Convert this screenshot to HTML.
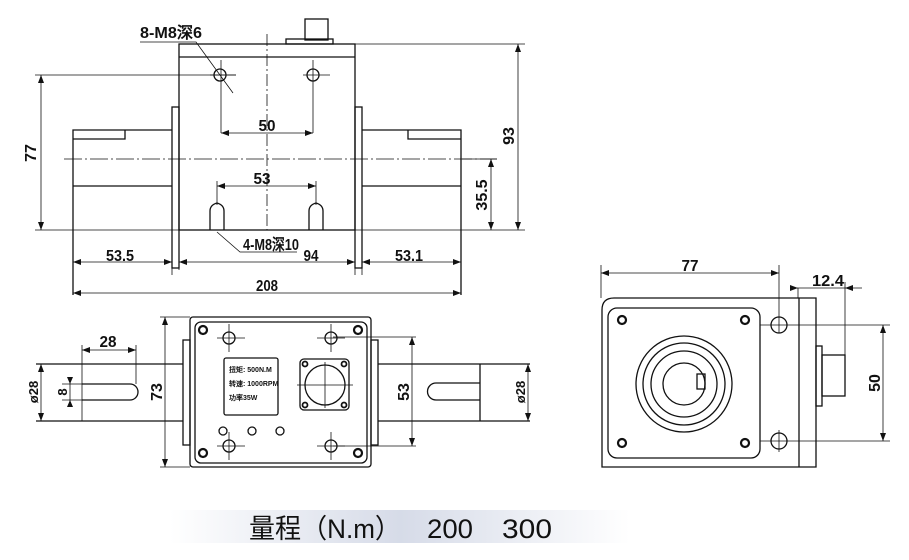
<!DOCTYPE html>
<html><head><meta charset="utf-8"><style>
html,body{margin:0;padding:0;background:#fff;}
svg{display:block;}
text{font-family:"Liberation Sans Narrow","Liberation Sans",sans-serif;font-weight:bold;fill:#111;}
</style></head><body>
<svg width="909" height="560" viewBox="0 0 909 560" xmlns="http://www.w3.org/2000/svg">
<defs>
<linearGradient id="g" x1="0" x2="1" y1="0" y2="0">
<stop offset="0" stop-color="#fff"/><stop offset="0.5" stop-color="#d6dbe8"/><stop offset="1" stop-color="#fff"/>
</linearGradient>
</defs>
<g stroke="#111" fill="none" stroke-width="1.3">
<rect x="305" y="19" width="23" height="21"/>
<rect x="286" y="39" width="47" height="5"/>
<rect x="179" y="44" width="176" height="186"/>
<line x1="179" y1="57" x2="355" y2="57"/>
<rect x="172" y="107" width="7" height="161"/>
<rect x="355" y="107" width="7" height="161"/>
<path d="M172 130H73V295 M73 186H172 M125 130V139H73 M73 139H125"/>
<path d="M362 130H461V295 M362 186H461 M408 130V139H461"/>
<path d="M64 159H497" stroke-width="0.8" stroke-dasharray="18 3 2 3"/>
<path d="M267 34V230" stroke-width="0.8" stroke-dasharray="12 3 2 3"/>
<circle cx="220" cy="75" r="6"/><circle cx="313" cy="75" r="6"/>
<path d="M210 75H236 M303 75H330 M221 60V133 M313 60V133 M221 133H313" stroke-width="0.8"/>
<path d="M217 186H316 M217 181V205 M316 181V205" stroke-width="0.8"/>
<path d="M210 230V211Q210 205 217 203Q224 205 224 211V230 M309 230V211Q309 205 316 203Q323 205 323 211V230" />
<path d="M35 75H236 M35 230H525 M41 75V230 M355 44H525 M518 44V230 M462 159H497 M491 159V230" stroke-width="0.8"/>
<path d="M73 262H172 M179 262H355 M362 262H461 M73 293H461 M172 268V275 M355 268V275 M362 268V275 M179 262V270" stroke-width="0.8"/>
<path d="M140 42H196L233 93 M217 232L240 252H297" stroke-width="0.8"/>
<rect x="190" y="317" width="181" height="150" rx="3"/>
<rect x="195" y="322" width="172" height="141" rx="6"/>
<rect x="183" y="340" width="7" height="105"/>
<rect x="371" y="340" width="7" height="105"/>
<path d="M36 364H183 M36 421H183 M378 364H530 M378 421H530"/>
<path d="M82 384H130A8 8 0 0 1 130 400H82"/>
<path d="M480 383H436A8.5 8.5 0 0 0 436 400H480 M480 364V421"/>
<path d="M82 345V421 M136 345V384 M82 350H136 M70 380V406 M62 384H82 M62 400H82 M41 364V421 M165 317V467 M160 317H190 M160 467H190 M333 337H416 M333 446H416 M412 337V446 M528 364V421" stroke-width="0.8"/>
<g stroke-width="2.2">
<circle cx="203" cy="330" r="4"/><circle cx="358" cy="330" r="4"/><circle cx="203" cy="453" r="4"/><circle cx="358" cy="453" r="4"/>
</g>
<g>
<circle cx="229" cy="338" r="6"/><circle cx="331" cy="338" r="6"/><circle cx="229" cy="446" r="6"/><circle cx="331" cy="446" r="6"/>
<path d="M217 338H245 M229 324V352 M317 338H345 M331 324V352 M217 446H245 M229 432V460 M317 446H345 M331 432V460" stroke-width="0.8"/>
</g>
<rect x="224" y="358" width="54" height="57" rx="2"/>
<rect x="300" y="359" width="49" height="51" rx="4"/>
<circle cx="325" cy="385" r="20"/>
<path d="M297 385H353 M325 362V408" stroke-width="0.8"/>
<g stroke-width="1.8"><circle cx="305" cy="364" r="2.5"/><circle cx="344" cy="364" r="2.5"/><circle cx="305" cy="405" r="2.5"/><circle cx="344" cy="405" r="2.5"/></g>
<circle cx="223" cy="431" r="4"/><circle cx="252" cy="431" r="4"/><circle cx="280" cy="431" r="4"/>
<path d="M602 467V310Q602 298 614 298H816V467Z"/>
<line x1="799" y1="298" x2="799" y2="467"/>
<rect x="608" y="308" width="152" height="150" rx="9"/>
<g stroke-width="2.2"><circle cx="622" cy="320" r="4"/><circle cx="745" cy="320" r="4"/><circle cx="622" cy="443" r="4"/><circle cx="745" cy="443" r="4"/></g>
<circle cx="684" cy="384" r="48"/><circle cx="684" cy="384" r="41"/><circle cx="684" cy="384" r="33"/><circle cx="684" cy="384" r="21"/>
<rect x="697" y="374" width="8" height="15"/>
<circle cx="779" cy="325" r="8"/><circle cx="779" cy="441" r="8"/>
<rect x="816" y="346" width="6" height="60"/>
<rect x="822" y="355" width="23" height="41"/>
<path d="M601 265V298 M779 265V333 M601 273H779 M797 288H862 M845 282V355 M798 288V298 M760 325H890 M760 441H890 M883 325V441 M779 430V452" stroke-width="0.8"/>
</g>
<g fill="#111">
<path d="M41 75l-3 8h6z M41 230l-3-8h6z M518 44l-3 8h6z M518 230l-3-8h6z M491 159l-3 8h6z M491 230l-3-8h6z"/>
<path d="M221 133l8-3v6z M313 133l-8-3v6z M217 186l8-3v6z M316 186l-8-3v6z"/>
<path d="M73 262l8-3v6z M172 262l-8-3v6z M179 262l8-3v6z M355 262l-8-3v6z M362 262l8-3v6z M461 262l-8-3v6z M73 293l8-3v6z M461 293l-8-3v6z"/>
<path d="M82 350l8-3v6z M136 350l-8-3v6z M165 317l-3 8h6z M165 467l-3-8h6z M412 337l-3 8h6z M412 446l-3-8h6z M41 364l-3 8h6z M41 421l-3-8h6z M528 364l-3 8h6z M528 421l-3-8h6z M70 384l-3-7h6z M70 400l-3 7h6z"/>
<path d="M601 273l8-3v6z M779 273l-8-3v6z M798 288l-8-3v6z M845 288l8-3v6z M883 325l-3 8h6z M883 441l-3-8h6z"/>
</g>
<g font-size="16">
<text x="140" y="38" font-family="Liberation Sans, Noto Sans CJK SC, sans-serif" textLength="62" lengthAdjust="spacingAndGlyphs">8-M8深6</text>
<text x="267" y="131" text-anchor="middle" textLength="17" lengthAdjust="spacingAndGlyphs">50</text>
<text x="262" y="184" text-anchor="middle" textLength="17" lengthAdjust="spacingAndGlyphs">53</text>
<text x="243" y="250" textLength="56" lengthAdjust="spacingAndGlyphs">4-M8深10</text>
<text x="120" y="261" text-anchor="middle" textLength="28" lengthAdjust="spacingAndGlyphs">53.5</text>
<text x="311" y="261" text-anchor="middle" textLength="15" lengthAdjust="spacingAndGlyphs">94</text>
<text x="409" y="261" text-anchor="middle" textLength="28" lengthAdjust="spacingAndGlyphs">53.1</text>
<text x="267" y="291" text-anchor="middle" textLength="22" lengthAdjust="spacingAndGlyphs">208</text>
<text transform="translate(36,153) rotate(-90)" text-anchor="middle">77</text>
<text transform="translate(514,136) rotate(-90)" text-anchor="middle">93</text>
<text transform="translate(487,195) rotate(-90)" text-anchor="middle">35.5</text>
<text x="108" y="347" text-anchor="middle" textLength="17" lengthAdjust="spacingAndGlyphs">28</text>
<text transform="translate(38,392) rotate(-90)" text-anchor="middle" font-size="13">ø28</text>
<text transform="translate(67,392) rotate(-90)" text-anchor="middle" font-size="13">8</text>
<text transform="translate(162,392) rotate(-90)" text-anchor="middle">73</text>
<text transform="translate(409,392) rotate(-90)" text-anchor="middle">53</text>
<text transform="translate(525,392) rotate(-90)" text-anchor="middle" font-size="13">ø28</text>
<text x="690" y="271" text-anchor="middle" textLength="17" lengthAdjust="spacingAndGlyphs">77</text>
<text x="828" y="286" text-anchor="middle" textLength="32" lengthAdjust="spacingAndGlyphs">12.4</text>
<text transform="translate(880,383) rotate(-90)" text-anchor="middle">50</text>
</g>
<g font-size="7" font-family="Liberation Sans, Noto Sans CJK SC, sans-serif">
<text x="229" y="372">扭矩: 500N.M</text>
<text x="229" y="386">转速: 1000RPM</text>
<text x="229" y="400">功率35W</text>
</g>
<rect x="170" y="510" width="460" height="33" fill="url(#g)"/>
<g font-size="27" style="font-weight:normal;font-family:'Liberation Sans','Noto Sans CJK SC',sans-serif" fill="#111">
<text x="249" y="538" textLength="152" lengthAdjust="spacingAndGlyphs" style="font-weight:normal">量程（N.m）</text>
<text x="427" y="538" style="font-weight:normal" textLength="46" lengthAdjust="spacingAndGlyphs">200</text>
<text x="502" y="538" style="font-weight:normal" textLength="50" lengthAdjust="spacingAndGlyphs">300</text>
</g>
</svg>
</body></html>
